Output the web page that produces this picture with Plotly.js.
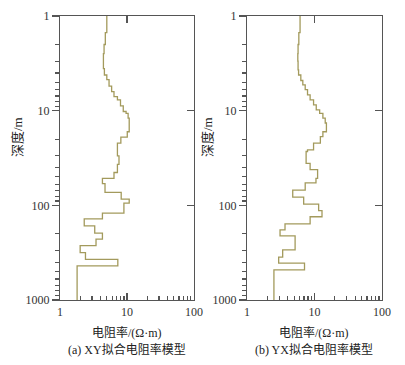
<!DOCTYPE html>
<html><head><meta charset="utf-8">
<script src="https://cdn.plot.ly/plotly-3.0.1.min.js"></script>
<style>html,body{margin:0;padding:0;background:#fff}#chart{width:405px;height:365px}</style>
</head><body><div id="chart"></div>
<script>
// XY model: layer top depth (m) and resistivity (Ω·m)
const xyDepth = [1, 1.5, 2, 2.5, 3, 3.6, 4.2, 4.7, 5.5, 6.3, 7.1, 7.7, 8.9, 10.2, 10.7, 12.0, 16.7, 19.0, 22, 30, 37, 45, 52, 59, 73, 86, 95, 121, 139, 165, 197, 228, 266, 316, 372, 437];
const xyRes   = [5.0, 4.75, 4.55, 4.45, 4.45, 4.6, 5.0, 5.4, 5.9, 6.4, 7.2, 8.0, 8.8, 9.7, 10.4, 10.8, 10.1, 8.1, 7.2, 7.6, 7.2, 6.4, 4.3, 4.7, 8.2, 10.8, 9.0, 4.3, 2.3, 3.3, 4.3, 3.45, 2.0, 2.4, 7.3, 1.8];
// YX model
const yxDepth = [1, 1.5, 2, 2.5, 3, 3.7, 4.2, 4.8, 5.35, 6.0, 6.8, 7.7, 8.7, 9.8, 10.7, 12, 13.5, 16.7, 18.8, 22, 26, 27, 36, 42, 52, 58, 69, 82, 97, 114, 132, 157, 182, 210, 296, 353, 408, 481];
const yxRes   = [6.1, 5.85, 5.7, 5.65, 5.7, 5.8, 6.26, 6.7, 7.27, 7.87, 8.6, 9.67, 10.6, 11.9, 13.3, 14.4, 15.0, 13.3, 12.2, 9.67, 7.87, 7.5, 8.6, 11.1, 10.5, 7.27, 4.75, 6.9, 11.5, 12.9, 8.6, 3.65, 3.08, 5.15, 3.37, 2.94, 7.1, 2.5];
const maxDepth = 1000;
const xTickVals = [1, 10, 100];
const xTickText = ['1', '10', '100'];
const yTickVals = [1, 10, 100, 1000];
const yTickText = ['1', '10', '100', '1000'];
const xTitle = '电阻率/(Ω·m)';
const yTitle = '深度/m';
const captions = ['(a) XY拟合电阻率模型', '(b) YX拟合电阻率模型'];

const minorVals = [];
for (let e = 0; e < 3; e++) for (let m = 2; m <= 9; m++) minorVals.push(m * Math.pow(10, e));

function profile(depth, res, xa, ya) {
  return {
    x: res.concat([res[res.length - 1]]),
    y: depth.concat([maxDepth]),
    xaxis: xa, yaxis: ya, mode: 'lines', type: 'scatter',
    line: {color: '#a39a5c', width: 1.3, shape: 'vh'},
    hoverinfo: 'skip', showlegend: false
  };
}
function ghost(xa, ya) {
  return {x: [3], y: [3], xaxis: xa, yaxis: ya, mode: 'markers', type: 'scatter',
    marker: {size: 1, opacity: 0}, hoverinfo: 'skip', showlegend: false};
}
const FONT = 'Liberation Serif, "Noto Sans CJK SC", serif';
const AX = '#555555';
const base = {type: 'log', showgrid: false, zeroline: false, tickcolor: AX, tickwidth: 1.2};
function xAxis(domain, anchor) {
  return Object.assign({}, base, {domain, anchor, range: [0, 2], tickmode: 'array', tickvals: xTickVals, ticktext: xTickText,
    ticks: 'inside', ticklen: 7, showline: true, linecolor: AX, linewidth: 1.2, mirror: true,
    tickfont: {family: FONT, size: 12, color: '#333'}});
}
function yAxis(anchor) {
  return Object.assign({}, base, {domain: [0, 1], anchor, range: [3, 0], tickmode: 'array', tickvals: yTickVals, ticktext: yTickText,
    ticks: 'outside', ticklen: 7, showline: true, linecolor: AX, linewidth: 1.2, mirror: true,
    tickfont: {family: FONT, size: 12, color: '#333'}});
}
function xOver(over, anchor, side, vals, len) {
  return Object.assign({}, base, {overlaying: over, anchor, side, range: [0, 2], tickmode: 'array', tickvals: vals,
    ticks: 'inside', ticklen: len, showticklabels: false, showline: false});
}
function yOver(over, anchor, side, vals, len, dir) {
  return Object.assign({}, base, {overlaying: over, anchor, side, range: [3, 0], tickmode: 'array', tickvals: vals,
    ticks: dir, ticklen: len, showticklabels: false, showline: false});
}
const dom1 = [0, 0.416], dom2 = [0.581, 1];
const data = [
  profile(xyDepth, xyRes, 'x', 'y'),
  profile(yxDepth, yxRes, 'x2', 'y2'),
  ghost('x3', 'y'), ghost('x', 'y3'), ghost('x5', 'y'), ghost('x', 'y5'),
  ghost('x4', 'y2'), ghost('x2', 'y4'), ghost('x6', 'y2'), ghost('x2', 'y6')
];
const ann = (text, x, y, extra) => Object.assign({text, x, y, xref: 'paper', yref: 'paper', showarrow: false,
  font: {family: FONT, size: 12, color: '#222'}, xanchor: 'center', yanchor: 'middle'}, extra || {});
const layout = {
  width: 405, height: 365, margin: {l: 60, r: 23, t: 16, b: 65},
  paper_bgcolor: '#fff', plot_bgcolor: '#fff', showlegend: false,
  xaxis: xAxis(dom1, 'y'), yaxis: yAxis('x'),
  xaxis2: xAxis(dom2, 'y2'), yaxis2: yAxis('x2'),
  // mirrored major ticks (top / right, pointing inward)
  xaxis3: xOver('x', 'y', 'top', [10], 7),
  yaxis3: yOver('y', 'x', 'right', [10, 100], 7, 'inside'),
  xaxis4: xOver('x2', 'y2', 'top', [10], 7),
  yaxis4: yOver('y2', 'x2', 'right', [10, 100], 7, 'inside'),
  // minor ticks
  xaxis5: xOver('x', 'y', 'bottom', minorVals, 4),
  yaxis5: yOver('y', 'x', 'left', minorVals, 4, 'outside'),
  xaxis6: xOver('x2', 'y2', 'bottom', minorVals, 4),
  yaxis6: yOver('y2', 'x2', 'left', minorVals, 4, 'outside'),
  annotations: [
    ann(xTitle, 0.208, -0.113), ann(captions[0], 0.208, -0.176),
    ann(xTitle, 0.79, -0.113), ann(captions[1], 0.79, -0.176),
    ann(yTitle, -0.13, 0.574, {textangle: -90, font: {family: FONT, size: 13, color: '#222'}}),
    ann(yTitle, 0.46, 0.574, {textangle: -90, font: {family: FONT, size: 13, color: '#222'}})
  ]
};
Plotly.newPlot('chart', data, layout, {staticPlot: true, displayModeBar: false});
</script></body></html>
